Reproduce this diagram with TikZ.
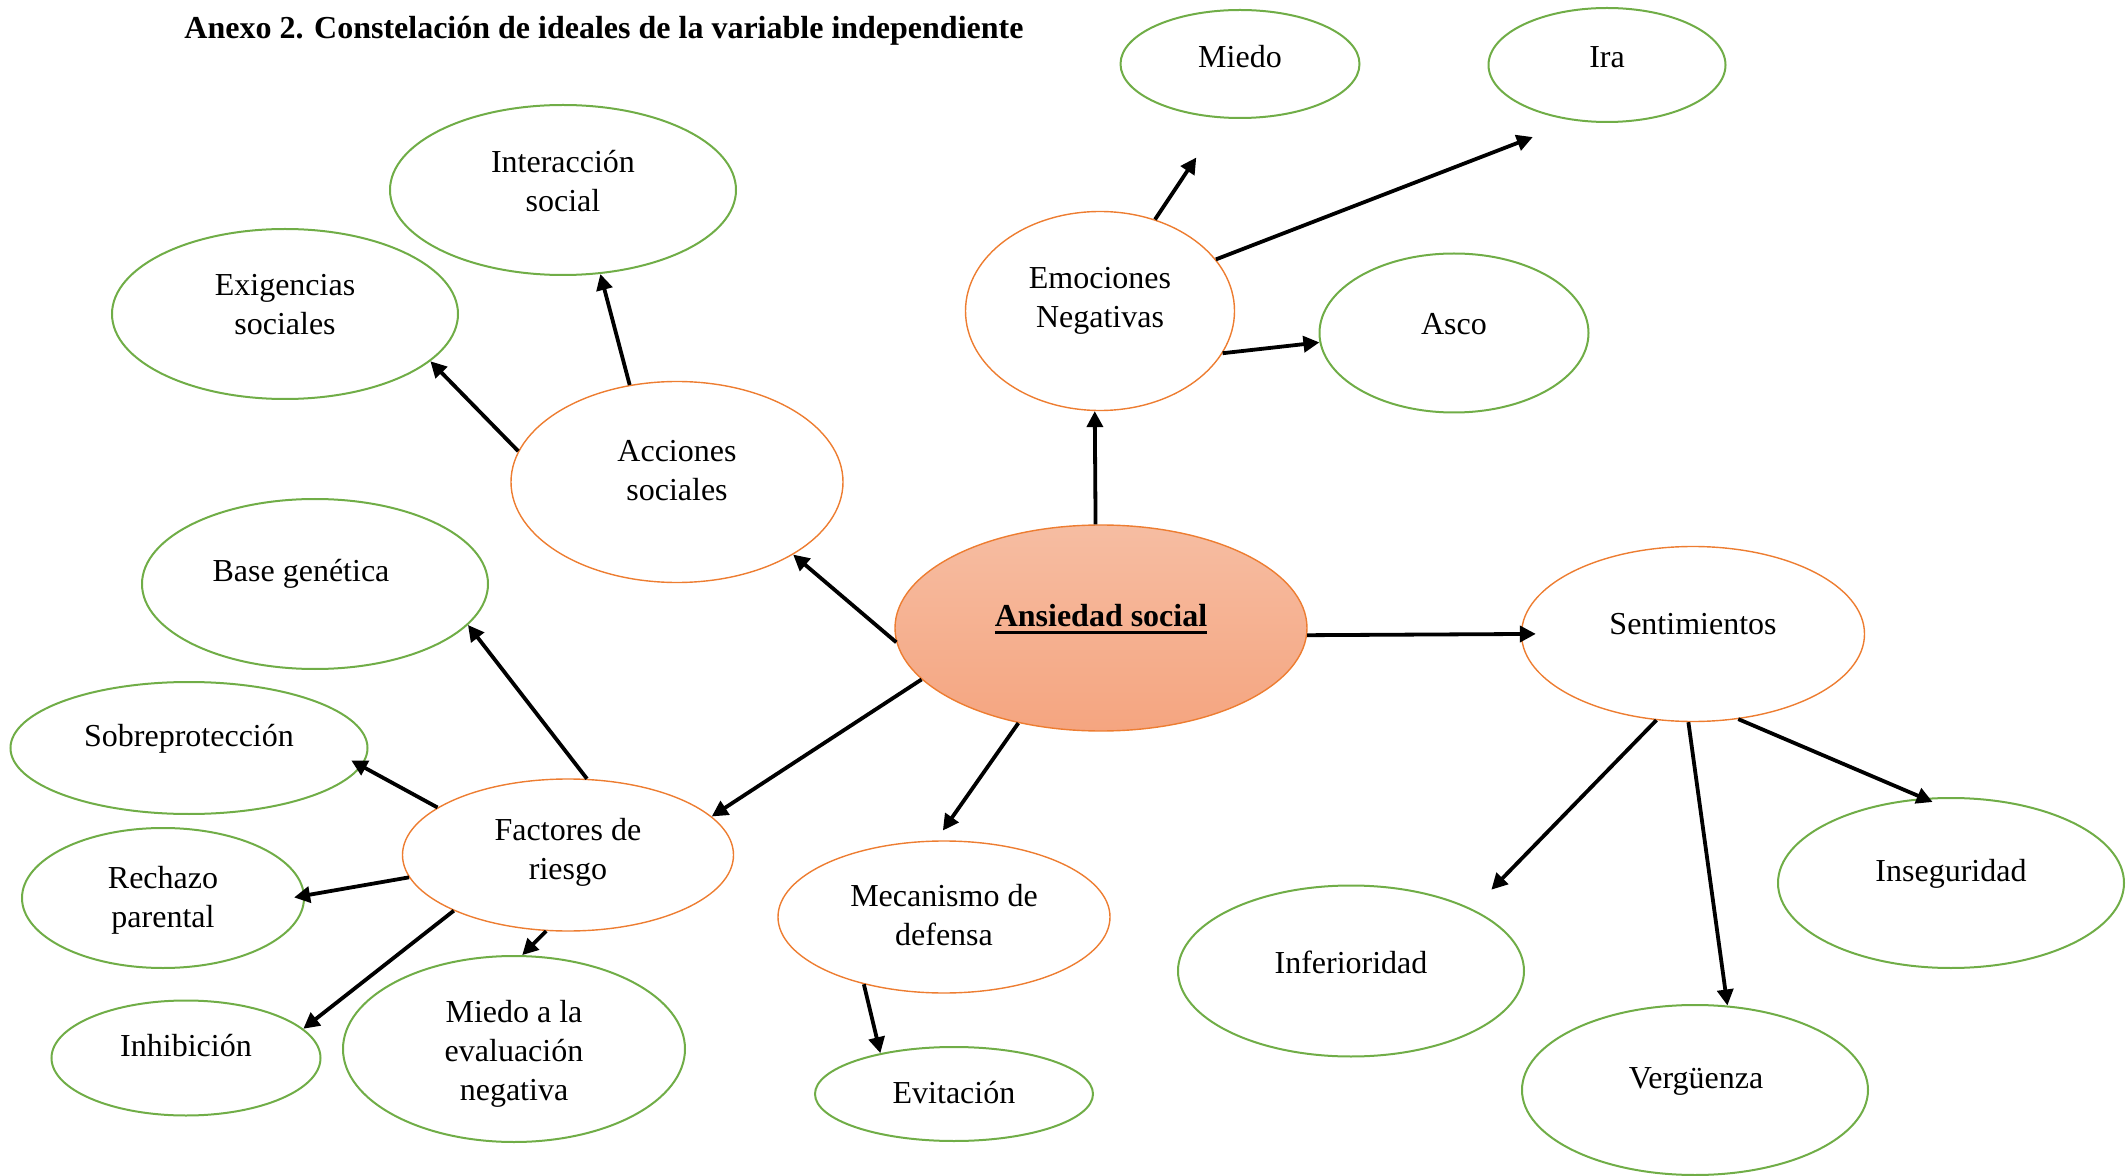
\documentclass[tikz,border=0pt]{standalone}
\usepackage{fontspec}
\setmainfont{Liberation Serif}
\usetikzlibrary{shapes.geometric,arrows.meta}
\definecolor{grn}{RGB}{112,173,71}
\definecolor{org}{RGB}{237,125,49}
\definecolor{ansTop}{RGB}{246,189,162}
\definecolor{ansBot}{RGB}{245,165,128}
\newcommand\myThickUl[1]{\setbox0\hbox{#1}\rlap{\rule[-3.6pt]{\wd0}{1.5pt}}\box0}
\tikzset{
  gell/.style={ellipse, draw=grn, line width=1pt, inner sep=0pt},
  oell/.style={ellipse, draw=org, line width=0.7pt, inner sep=0pt},
  sz/.style 2 args={minimum width=#1*0.5pt, minimum height=#2*0.5pt},
  lbl/.style={align=center, font=\fontsize{16}{19.5}\selectfont, inner sep=0pt},
  arr/.style={line width=1.9pt, -{Triangle[length=8pt,width=8pt]}}
}
\begin{document}
\begin{tikzpicture}[x=0.5pt,y=-0.5pt]
\useasboundingbox (0,0) rectangle (2127,1176);
% title
\node[anchor=west, inner sep=0pt, font=\bfseries\fontsize{16}{19}\selectfont] (title) at (184,31) {Anexo 2. Constelación de ideales de la variable independiente};
% ellipses
\node[gell, sz={239}{108}] (miedo) at (1240,64) {};
\node[gell, sz={237}{114}] (ira) at (1607,65) {};
\node[gell, sz={346}{170}] (int) at (563,190) {};
\node[gell, sz={346}{170}] (exi) at (285,314) {};
\node[oell, sz={269}{199}] (emo) at (1100,311) {};
\node[gell, sz={269}{159}] (asco) at (1454,333) {};
\node[oell, sz={332}{201}] (acc) at (677,482) {};
\node[gell, sz={346}{170}] (base) at (315,584) {};
\node[ellipse, draw=org, line width=0.7pt, inner sep=0pt, top color=ansTop, bottom color=ansBot, sz={412}{206}] (ans) at (1101,628) {};
\node[oell, sz={343}{175}] (sent) at (1693,634) {};
\node[gell, sz={357}{132}] (sobre) at (189,748) {};
\node[oell, sz={331}{152}] (fac) at (568,855) {};
\node[gell, sz={282}{140}] (rech) at (163,898) {};
\node[oell, sz={332}{152}] (mec) at (944,917) {};
\node[gell, sz={346}{170}] (inseg) at (1951,883) {};
\node[gell, sz={346}{171}] (inf) at (1351,971) {};
\node[gell, sz={346}{170}] (ver) at (1695,1090) {};
\node[gell, sz={269}{115}] (inh) at (186,1058) {};
\node[gell, sz={342}{186}] (mev) at (514,1049) {};
\node[gell, sz={278}{94}] (evi) at (954,1094) {};
% texts
\node[lbl] (miedoT) at (1240,57) {Miedo};
\node[lbl] (iraT) at (1607,57) {Ira};
\node[lbl] (intT) at (563,181) {Interacción\\social};
\node[lbl] (exiT) at (285,305) {Exigencias\\sociales};
\node[lbl] (emoT) at (1100,301) {Emociones\\Negativas};
\node[lbl] (ascoT) at (1454,324) {Asco};
\node[lbl] (accT) at (677,471) {Acciones\\sociales};
\node[lbl] (baseT) at (301,574) {Base genética};
\node[lbl, font=\bfseries\fontsize{16}{19.5}\selectfont] (ansT) at (1101,619) {\myThickUl{Ansiedad social}};
\node[lbl] (sentT) at (1693,624) {Sentimientos};
\node[lbl] (sobreT) at (189,739) {Sobreprotección};
\node[lbl] (facT) at (568,852) {Factores de\\riesgo};
\node[lbl] (rechT) at (163,900) {Rechazo\\parental};
\node[lbl] (mecT) at (944,915) {Mecanismo de\\defensa};
\node[lbl] (insegT) at (1951,874) {Inseguridad};
\node[lbl] (infT) at (1351,962) {Inferioridad};
\node[lbl] (verT) at (1696,1081) {Vergüenza};
\node[lbl] (inhT) at (186,1046) {Inhibición};
\node[lbl] (mevT) at (514,1054) {Miedo a la\\evaluación\\negativa};
\node[lbl] (eviT) at (954,1093) {Evitación};
% arrows
\draw[arr] (ans.93) -- (emo.-93);
\draw[arr, shorten >=23.5pt] (emo.59.5) -- (miedo.-108);
\draw[arr, shorten >=22.5pt] (emo.24.7) -- (ira.-120);
\draw[arr] (emo.-19) -- (asco.184);
\draw[arr] (ans.184) -- (acc.-32.3);
\draw[arr] (acc.169.4) -- (exi.-18);
\draw[arr] (acc.116.8) -- (int.-66.4);
\draw[arr, shorten >=-7.5pt] (ans.-2) -- (sent.west);
\draw[arr, shorten >=13.5pt] (sent.-113) -- (inf.27.7);
\draw[arr] (sent.-93) -- (ver.69.6);
\draw[arr, shorten >=-5pt] (sent.-62.2) -- (inseg.108.2);
\draw[arr] (ans.196.4) -- (fac.15.6);
\draw[arr, shorten >=6pt] (ans.229.2) -- (mec.96);
\draw[arr] (mec.-140.5) -- (evi.151);
\draw[arr] (fac.76.5) -- (base.-15.3);
\draw[arr, shorten >=-6pt] (fac.160.9) -- (sobre.-6.5);
\draw[arr, shorten >=-5.5pt] (fac.188.3) -- (rech.1);
\draw[arr] (fac.206) -- (inh.14.7);
\draw[arr] (fac.-106.6) -- (mev.85.5);
\end{tikzpicture}
\end{document}
